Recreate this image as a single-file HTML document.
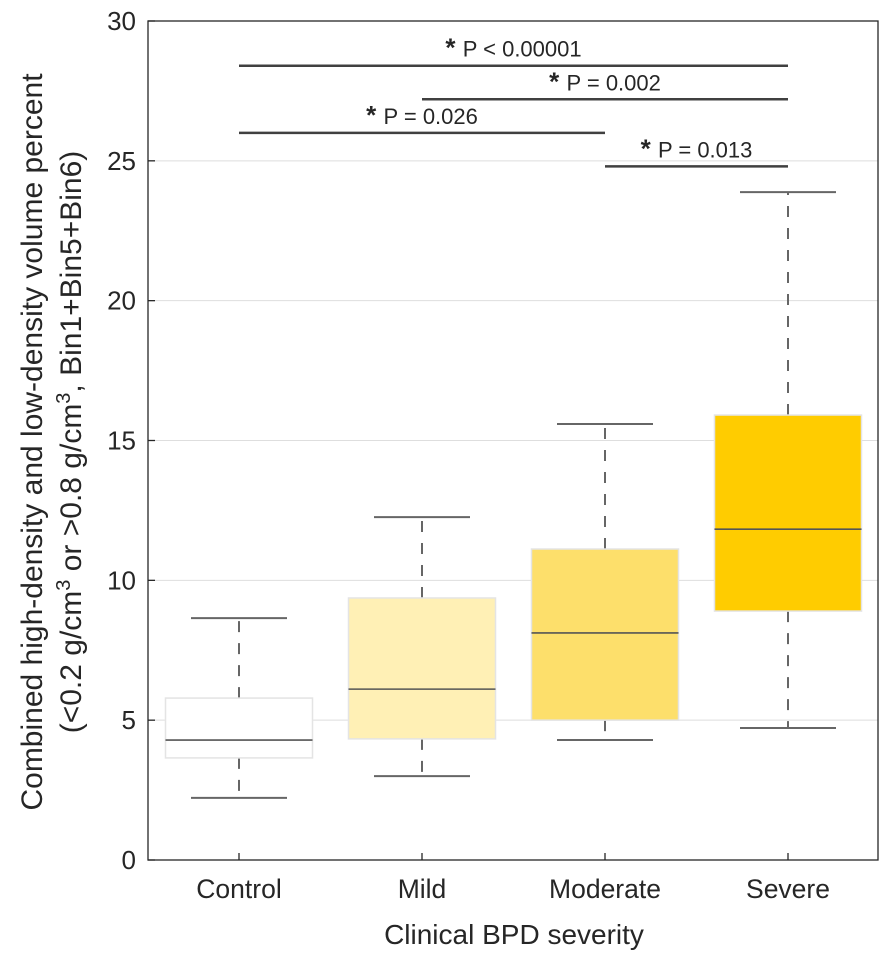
<!DOCTYPE html>
<html><head><meta charset="utf-8"><style>
body{margin:0;background:#fff;}
svg text{font-family:"Liberation Sans",sans-serif;fill:#262626;}
</style></head><body>
<svg id="chart" width="896" height="958" xmlns="http://www.w3.org/2000/svg"></svg>
<script>
const categories=["Control","Mild","Moderate","Severe"];
const whiskerLow=[2.22,3.0,4.29,4.72];
const q1=[3.65,4.33,5.0,8.9];
const medians=[4.29,6.11,8.12,11.83];
const q3=[5.79,9.37,11.12,15.91];
const whiskerHigh=[8.65,12.26,15.59,23.88];
const boxColors=["#ffffff","#fff0b5","#fddf6b","#ffcc00"];
const yTicks=[0,5,10,15,20,25,30];
const sigFrom=[0,1,0,2];
const sigTo=[3,3,2,3];
const sigY=[28.4,27.2,26.0,24.8];
const sigLabels=["P < 0.00001","P = 0.002","P = 0.026","P = 0.013"];

const L=148,R=878,T=21,B=860;
const y=v=>B-(v/30)*(B-T);
const x=i=>239+i*183;
const svg=document.getElementById('chart');
const NS="http://www.w3.org/2000/svg";
function mk(tag,attrs,parent){const e=document.createElementNS(NS,tag);for(const k in attrs)e.setAttribute(k,attrs[k]);(parent||svg).appendChild(e);return e;}

yTicks.forEach(t=>{
  if(t>0&&t<30){const g=mk('line',{x1:L,x2:R,y1:y(t),y2:y(t),stroke:'#dedede','stroke-width':1});
  
  }
  const tk=mk('line',{x1:L,x2:L+7,y1:y(t),y2:y(t),stroke:'#262626','stroke-width':1.3});
  
  
  const lb=mk('text',{x:L-12,y:y(t)+9,'text-anchor':'end','font-size':26});
  lb.textContent=t;
  
  
});

categories.forEach((c,i)=>{
  const cx=x(i);
  const g=mk('g',{});
  
  
  mk('line',{x1:cx,x2:cx,y1:y(q3[i]),y2:y(whiskerHigh[i]),stroke:'#666','stroke-width':2,'stroke-dasharray':'11,11'},g);
  mk('line',{x1:cx,x2:cx,y1:y(q1[i]),y2:y(whiskerLow[i]),stroke:'#666','stroke-width':2,'stroke-dasharray':'11,11'},g);
  mk('line',{x1:cx-48,x2:cx+48,y1:y(whiskerHigh[i]),y2:y(whiskerHigh[i]),stroke:'#666','stroke-width':2},g);
  mk('line',{x1:cx-48,x2:cx+48,y1:y(whiskerLow[i]),y2:y(whiskerLow[i]),stroke:'#666','stroke-width':2},g);
  mk('rect',{x:cx-73.5,y:y(q3[i]),width:147,height:y(q1[i])-y(q3[i]),fill:boxColors[i],stroke:'#e4e4e4','stroke-width':1.5},g);
  mk('line',{x1:cx-73.5,x2:cx+73.5,y1:y(medians[i]),y2:y(medians[i]),stroke:'#555','stroke-width':1.6},g);
  const xt=mk('line',{x1:cx,x2:cx,y1:B,y2:B-7,stroke:'#262626','stroke-width':1.3});
  
  
  const lb=mk('text',{x:cx,y:898,'text-anchor':'middle','font-size':26.5});
  lb.textContent=c;
  
  
});

sigY.forEach((v,i)=>{
  const x1=x(sigFrom[i]),x2=x(sigTo[i]);
  const ln=mk('line',{x1:x1,x2:x2,y1:y(v),y2:y(v),stroke:'#404040','stroke-width':2.5});
  
  
  const t=mk('text',{x:(x1+x2)/2,y:y(v)-9,'text-anchor':'middle','font-size':22});
  const s=mk('tspan',{'font-weight':'bold','font-size':26},t);
  s.textContent='* ';
  const r=mk('tspan',{},t);
  r.textContent=sigLabels[i];
  
  
});

const ax=mk('rect',{x:L,y:T,width:R-L,height:B-T,fill:'none',stroke:'#262626','stroke-width':1.3});


</script>
<svg width="896" height="958" style="position:absolute;left:0;top:0" xmlns="http://www.w3.org/2000/svg">
<text x="514" y="944" text-anchor="middle" font-size="28" style="font-family:'Liberation Sans',sans-serif;fill:#262626">Clinical BPD severity</text>
<g transform="translate(42,442) rotate(-90)" style="font-family:'Liberation Sans',sans-serif;fill:#262626;font-size:30px">
<text x="0" y="0" text-anchor="middle">Combined high-density and low-density volume percent</text>
<text x="0" y="39" text-anchor="middle">(&lt;0.2 g/cm<tspan dy="-11" font-size="20">3</tspan><tspan dy="11"> or &gt;0.8 g/cm</tspan><tspan dy="-11" font-size="20">3</tspan><tspan dy="11">, Bin1+Bin5+Bin6)</tspan></text>
</g>
</svg>
</body></html>
